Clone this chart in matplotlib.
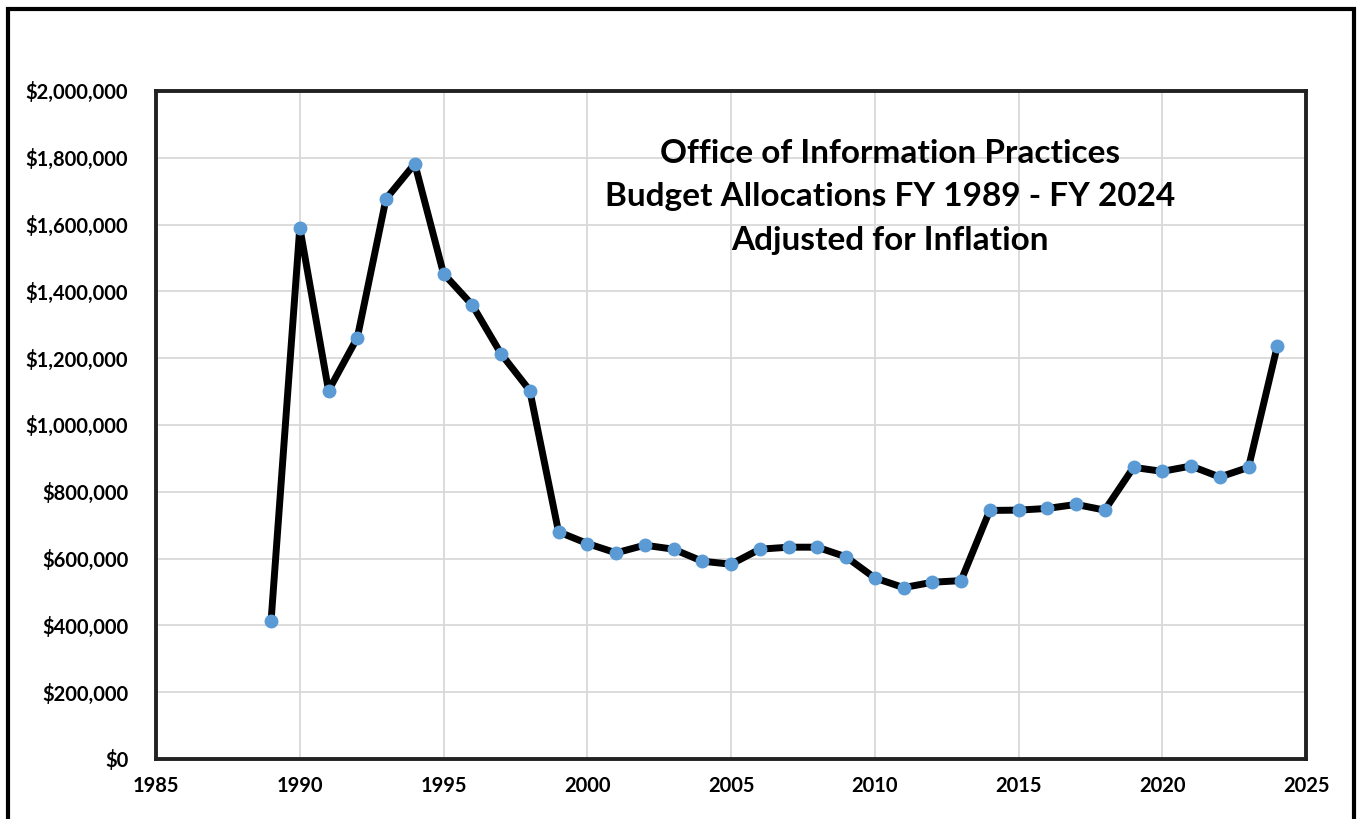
import matplotlib.pyplot as plt
from matplotlib.ticker import FuncFormatter, MultipleLocator
from matplotlib.patches import Rectangle

plt.rcParams['font.family'] = ['Lato', 'DejaVu Sans']

# Fiscal years and inflation-adjusted allocations
years = list(range(1989, 2025))
budget = [
    412000, 1591000, 1103000, 1261000, 1677000, 1782000, 1453000, 1359000,
    1213000, 1103000, 680000, 645000, 617000, 640000, 628000, 592000,
    583000, 628000, 634000, 634000, 605000, 542000, 513000, 529000,
    534000, 744000, 745000, 750000, 762000, 745000, 873000, 861000,
    877000, 844000, 873000, 1236000,
]

title_lines = [
    'Office of Information Practices',
    'Budget Allocations FY 1989 - FY 2024',
    'Adjusted for Inflation',
]

fig = plt.figure(figsize=(13.64, 8.19), dpi=100)
ax = fig.add_axes([0.1144, 0.0733, 0.8431, 0.8157])

ax.plot(years, budget, color='black', linewidth=5, zorder=3,
        marker='o', markersize=9, markerfacecolor='#5B9BD5',
        markeredgecolor='#5B9BD5', solid_capstyle='round')

ax.set_xlim(1985, 2025)
ax.set_ylim(0, 2000000)
ax.xaxis.set_major_locator(MultipleLocator(5))
ax.yaxis.set_major_locator(MultipleLocator(200000))
ax.yaxis.set_major_formatter(FuncFormatter(lambda v, p: '${:,.0f}'.format(v)))
ax.grid(True, color='#d9d9d9', linewidth=1.3)
ax.set_axisbelow(True)
ax.tick_params(length=0, labelsize=14.5)
ax.tick_params(axis='y', pad=20)
ax.tick_params(axis='x', pad=12)
for lab in ax.get_xticklabels() + ax.get_yticklabels():
    lab.set_fontweight('bold')
for s in ax.spines.values():
    s.set_color('#222222')
    s.set_linewidth(2.8)

ax.text(0.638, 0.928, '\n'.join(title_lines), transform=ax.transAxes,
        ha='center', va='top', fontsize=24, fontweight='bold',
        linespacing=1.6)

# outer chart-area frame
fig.patches.append(Rectangle((8 / 1364, -0.05), 1346 / 1364, 1.05 - 9 / 819,
                             transform=fig.transFigure, fill=False,
                             edgecolor='black', linewidth=3))

fig.savefig('out.png', dpi=100)
